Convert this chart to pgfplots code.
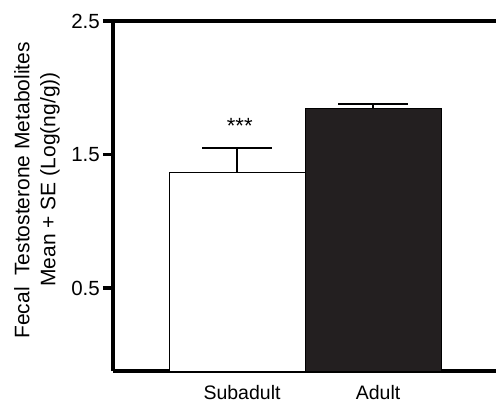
\documentclass[border=0pt]{standalone}
\usepackage{fontspec}
\setmainfont{Liberation Sans}
\usepackage{pgfplots}
\pgfplotsset{compat=1.18}
\definecolor{barblack}{HTML}{231F20}
\begin{document}
\begin{tikzpicture}
\useasboundingbox (-113bp,-32bp) rectangle (383bp,371bp);
\begin{axis}[
  at={(0,0)}, anchor=south west,
  scale only axis, width=383bp, height=350bp,
  xmin=-0.912, xmax=1.904, ymin=-0.122, ymax=2.5,
  axis x line*=box, axis y line*=left,
  axis line style={-, line width=3.4bp, black},
  xtick={0,1}, xticklabels={Subadult,Adult},
  ytick={0.5,1.5,2.5}, yticklabels={0.5,1.5,2.5},
  tick align=outside, major tick length=10bp,
  xtick style={draw=none},
  ytick style={line width=3.2bp, black},
  yticklabel style={font=\fontsize{20.5bp}{24bp}\selectfont, inner sep=0pt, xshift=-3bp},
  xticklabel style={font=\fontsize{19.5bp}{23bp}\selectfont, anchor=base, inner sep=0pt, xshift=5bp, yshift=-18bp},
  ylabel={Fecal\ \ Testosterone Metabolites\\\hspace*{22bp}Mean + SE (Log(ng/g))},
  every axis y label/.style={at={(axis description cs:0,0.516)}, rotate=90, anchor=center, yshift=76bp, align=center, font=\fontsize{21bp}{26bp}\selectfont},
  clip=false,
]
\addplot[draw=black, line width=0.9bp, fill=white] coordinates {(-0.5,-0.122) (-0.5,1.369) (0.5,1.369) (0.5,-0.122)} -- cycle;
\addplot[draw=black, line width=0.9bp, fill=barblack] coordinates {(0.5,-0.122) (0.5,1.848) (1.5,1.848) (1.5,-0.122)} -- cycle;
\addplot[draw=none, mark=none, error bars/.cd, y dir=plus, y explicit, error mark=|,
  error bar style={draw=black, solid, line width=1.3bp},
  error mark options={draw=black, solid, line width=1.3bp, mark size=35bp}]
  coordinates {(0,1.369) +- (0,0.18) (1,1.848) +- (0,0.03)};
\node[anchor=base, font=\fontsize{22bp}{24bp}\selectfont, inner sep=0pt] at (axis cs:0.02,1.66) {***};
\end{axis}
\end{tikzpicture}
\end{document}
